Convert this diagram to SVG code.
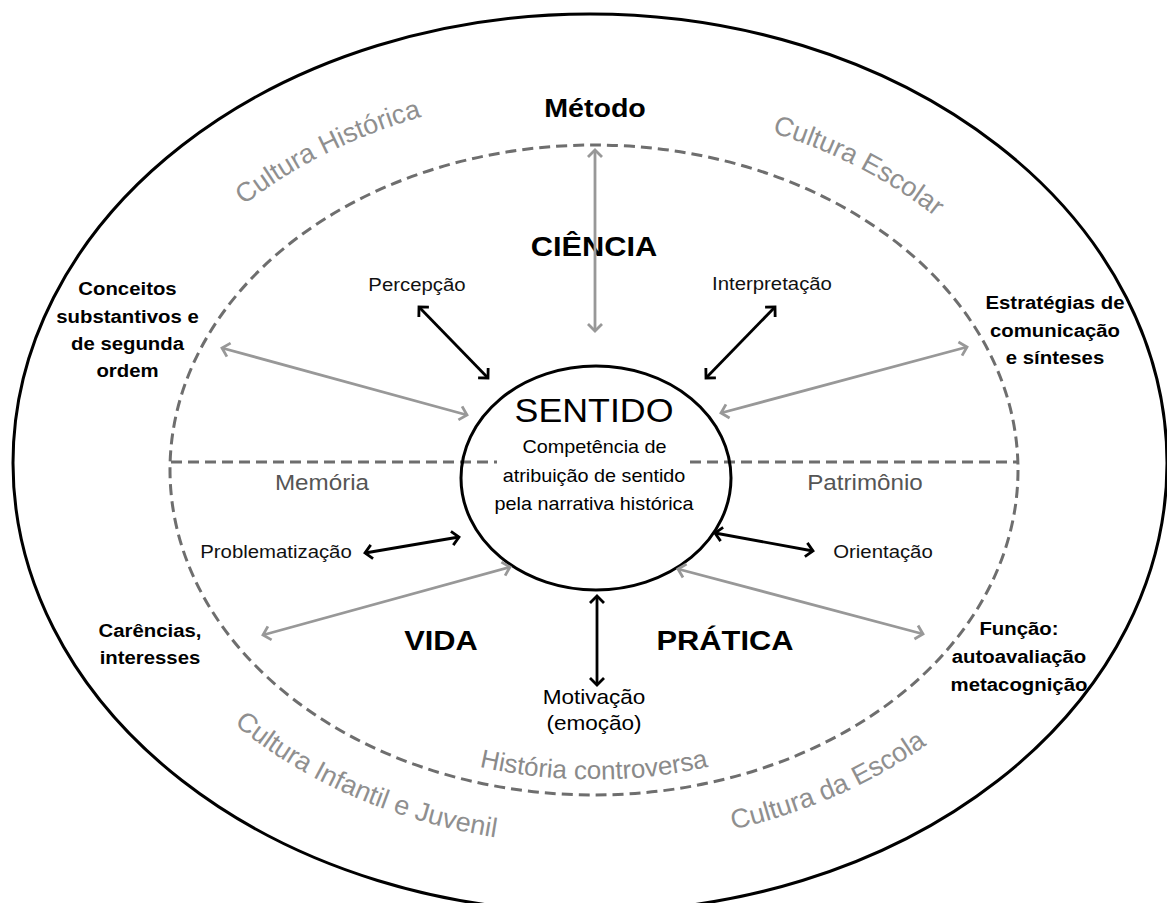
<svg xmlns="http://www.w3.org/2000/svg" width="1167" height="903" viewBox="0 0 1167 903">
<defs>
<style>
text{font-family:"Liberation Sans",Arial,Helvetica,sans-serif;}
.c{text-anchor:middle}
.sm{font-size:18.5px;fill:#111}
.bl{font-size:18.5px;font-weight:bold;fill:#000}
.big{font-size:28px;font-weight:bold;fill:#000}
.mid{font-size:22px;fill:#555}
.cul{font-size:27px;fill:#8f8f8f}
.ga{stroke:#989898;stroke-width:2.8;fill:none;marker-start:url(#mg);marker-end:url(#mg)}
.ka{stroke:#000;stroke-width:2.8;fill:none;marker-start:url(#mk);marker-end:url(#mk)}
.dash{fill:none;stroke:#6e6e6e;stroke-width:3;stroke-dasharray:11 6}
.solid{fill:none;stroke:#000;stroke-width:3}
</style>
<marker id="mg" viewBox="0 0 14 16" refX="11" refY="8" markerWidth="14" markerHeight="16" markerUnits="userSpaceOnUse" orient="auto-start-reverse" overflow="visible"><path d="M4,1 L11,8 L4,15" fill="none" stroke="#989898" stroke-width="2.8"/></marker>
<marker id="mk" viewBox="0 0 14 16" refX="11" refY="8" markerWidth="14" markerHeight="16" markerUnits="userSpaceOnUse" orient="auto-start-reverse" overflow="visible"><path d="M4,1 L11,8 L4,15" fill="none" stroke="#000" stroke-width="2.8"/></marker>
<path id="pHist" d="M244,205 A492,377 0 0 1 594,93"/>
<path id="pEsc" d="M772,132.5 A475,364 0 0 1 1069,470"/>
<path id="pInf" d="M234,724 A489,375 0 0 0 594,845"/>
<path id="pEsca" d="M733,829.5 A489,375 0 0 0 1083,470"/>
<path id="pContr" d="M244.1,624.7 A404,309.4 0 0 0 943.9,624.7"/>
</defs>
<rect width="1167" height="903" fill="#fff"/>

<g id="outer-culture">
<ellipse class="solid" cx="590" cy="463" rx="577" ry="449"/>
<text class="cul"><textPath href="#pHist">Cultura Histórica</textPath></text>
<text class="cul"><textPath href="#pEsc">Cultura Escolar</textPath></text>
<text class="cul"><textPath href="#pInf">Cultura Infantil e Juvenil</textPath></text>
<text class="cul"><textPath href="#pEsca">Cultura da Escola</textPath></text>
</g>

<g id="inner-field">
<ellipse class="dash" cx="594" cy="470" rx="424" ry="325"/>
<path class="dash" d="M171,462 H497 M690,462 H1018"/>
<text class="cul" style="font-size:26px;fill:#8a8a8a"><textPath href="#pContr" startOffset="50%" text-anchor="middle">História controversa</textPath></text>
</g>

<g id="metodo"><text class="c" style="font-size:26px;font-weight:bold" transform="translate(595 117) scale(1.1 1)">Método</text></g>
<g id="ciencia"><text class="c big" transform="translate(594 256) scale(1.1 1)">CIÊNCIA</text></g>
<g id="vida"><text class="c big" transform="translate(441 650) scale(1.1 1)">VIDA</text></g>
<g id="pratica"><text class="c big" transform="translate(725 650) scale(1.1 1)">PRÁTICA</text></g>

<g id="sentido">
<ellipse class="solid" cx="596" cy="478" rx="135" ry="112"/>
<text class="c" style="font-size:32.5px" transform="translate(594 421.7) scale(1.1 1)">SENTIDO</text>
<text class="c" style="font-size:18px" transform="translate(594.5 453) scale(1.1 1)">Competência de</text>
<text class="c" style="font-size:18px" transform="translate(594 482) scale(1.1 1)">atribuição de sentido</text>
<text class="c" style="font-size:18px" transform="translate(594 510) scale(1.1 1)">pela narrativa histórica</text>
</g>

<g id="percepcao"><text class="c sm" transform="translate(417 291) scale(1.1 1)">Percepção</text></g>
<g id="interpretacao"><text class="c sm" transform="translate(772 290) scale(1.1 1)">Interpretação</text></g>
<g id="memoria"><text class="c mid" transform="translate(322 490) scale(1.1 1)">Memória</text></g>
<g id="patrimonio"><text class="c mid" transform="translate(865 490) scale(1.1 1)">Patrimônio</text></g>
<g id="problematizacao"><text class="c sm" transform="translate(276 558) scale(1.1 1)">Problematização</text></g>
<g id="orientacao"><text class="c sm" transform="translate(883 558) scale(1.1 1)">Orientação</text></g>
<g id="motivacao">
<text class="c" style="font-size:20.5px" transform="translate(594 704) scale(1.1 1)">Motivação</text>
<text class="c" style="font-size:20.5px" transform="translate(594 730) scale(1.1 1)">(emoção)</text>
</g>

<g id="conceitos"><text class="c bl" transform="translate(127.5 295) scale(1.1 1)"><tspan x="0" y="0">Conceitos</tspan><tspan x="0" y="28">substantivos e</tspan><tspan x="0" y="55">de segunda</tspan><tspan x="0" y="82">ordem</tspan></text></g>
<g id="estrategias"><text class="c bl" transform="translate(1055 309) scale(1.1 1)"><tspan x="0" y="0">Estratégias de</tspan><tspan x="0" y="28">comunicação</tspan><tspan x="0" y="55">e sínteses</tspan></text></g>
<g id="carencias"><text class="c bl" transform="translate(150 637) scale(1.1 1)"><tspan x="0" y="0">Carências,</tspan><tspan x="0" y="27">interesses</tspan></text></g>
<g id="funcao"><text class="c bl" transform="translate(1019 635) scale(1.1 1)"><tspan x="0" y="0">Função:</tspan><tspan x="0" y="28">autoavaliação</tspan><tspan x="0" y="56">metacognição</tspan></text></g>

<g id="connectors">
<line class="ga" x1="595" y1="150" x2="595" y2="331"/>
<line class="ga" x1="222" y1="348" x2="467" y2="415"/>
<line class="ga" x1="721" y1="413" x2="967" y2="347"/>
<line class="ga" x1="263" y1="635" x2="510" y2="567"/>
<line class="ga" x1="678" y1="569" x2="923" y2="634"/>
<line class="ka" x1="419" y1="307" x2="488" y2="378"/>
<line class="ka" x1="706" y1="378" x2="775" y2="307"/>
<line class="ka" x1="365" y1="553" x2="459" y2="537"/>
<line class="ka" x1="715" y1="533" x2="813" y2="551"/>
<line class="ka" x1="597" y1="596" x2="597" y2="685"/>
</g>
</svg>
